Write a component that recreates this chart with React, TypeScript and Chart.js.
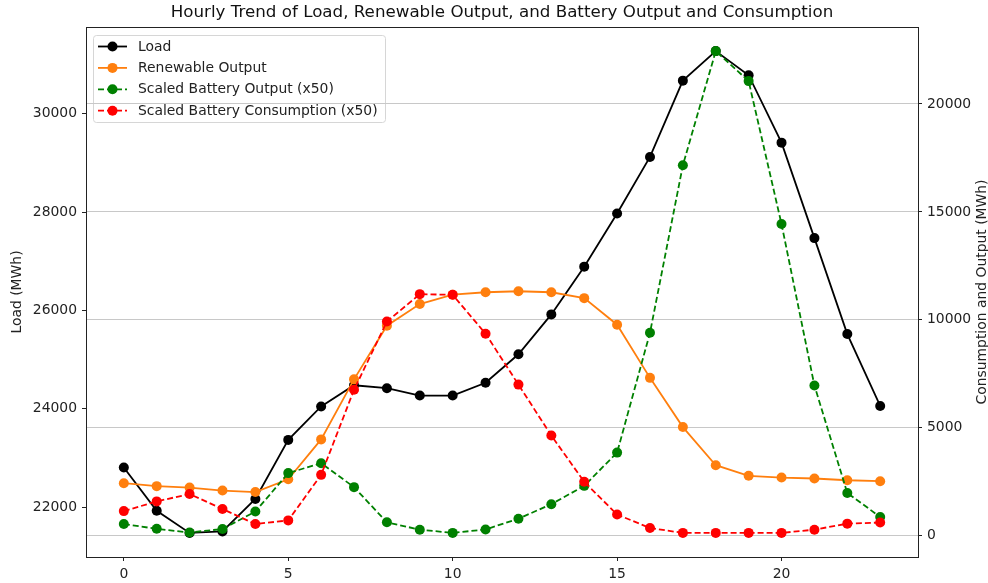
import React, { useEffect, useRef } from "react";
import { Chart, registerables } from "chart.js";

Chart.register(...registerables);

const FONT = "'DejaVu Sans', sans-serif";
const TEXT_SIZE = 13.9;

// Hour of day
const hours = [0, 1, 2, 3, 4, 5, 6, 7, 8, 9, 10, 11, 12, 13, 14, 15, 16, 17, 18, 19, 20, 21, 22, 23];

// Load (MWh), left axis
const load = [
  22810, 21930, 21480, 21510, 22170, 23370, 24050, 24480, 24420, 24270, 24270, 24530,
  25110, 25920, 26890, 27970, 29120, 30670, 31270, 30780, 29410, 27470, 25520, 24060,
];

// Renewable output (MWh), left axis
const renewable = [
  22490, 22430, 22400, 22340, 22310, 22570, 23380, 24600, 25690, 26130, 26320, 26370,
  26390, 26370, 26250, 25710, 24630, 23630, 22855, 22640, 22605, 22585, 22550, 22530,
];

// Battery output, already scaled x50 (MWh), right axis
const batteryOutputScaled = [
  540, 320, 150, 310, 1120, 2900, 3360, 2250, 620, 280, 130, 290,
  790, 1460, 2310, 3850, 9400, 17160, 22450, 21060, 14440, 6960, 1980, 870,
];

// Battery consumption, already scaled x50 (MWh), right axis
const batteryConsumptionScaled = [
  1140, 1590, 1930, 1240, 540, 710, 2820, 6760, 9920, 11190, 11160, 9360,
  7000, 4640, 2500, 980, 360, 130, 130, 130, 130, 280, 560, 610,
];

const xTicks = [0, 5, 10, 15, 20];
const loadTicks = [22000, 24000, 26000, 28000, 30000];
const rightTicks = [0, 5000, 10000, 15000, 20000];

const TITLE = "Hourly Trend of Load, Renewable Output, and Battery Output and Consumption";
const LEFT_TITLE = "Load (MWh)";
const RIGHT_TITLE = "Consumption and Output (MWh)";

type SeriesStyle = { label: string; color: string; dash: number[] };

const seriesStyles: SeriesStyle[] = [
  { label: "Load", color: "#000000", dash: [] },
  { label: "Renewable Output", color: "#ff7f0e", dash: [] },
  { label: "Scaled Battery Output (x50)", color: "#008000", dash: [6, 3] },
  { label: "Scaled Battery Consumption (x50)", color: "#ff0000", dash: [6, 3] },
];

const toPoints = (ys: number[]) => hours.map((h, i) => ({ x: h, y: ys[i] }));

// Figure title and the right-hand axis title (read bottom to top)
const textPlugin = {
  id: "figText",
  afterDraw(chart: any) {
    const { ctx, chartArea } = chart;
    ctx.save();
    ctx.font = `16.7px ${FONT}`;
    ctx.fillStyle = "#111";
    ctx.textAlign = "center";
    ctx.textBaseline = "middle";
    ctx.fillText(TITLE, (chartArea.left + chartArea.right) / 2, 13);

    ctx.font = `${TEXT_SIZE}px ${FONT}`;
    ctx.fillStyle = "#222";
    ctx.translate(chart.width - 6, (chartArea.top + chartArea.bottom) / 2);
    ctx.rotate(-Math.PI / 2);
    ctx.fillText(RIGHT_TITLE, 0, 0);
    ctx.restore();
  },
};

// Legend box; drawn before the scales so the right-axis grid passes over it
const legendPlugin = {
  id: "boxLegend",
  beforeDraw(chart: any) {
    const { ctx, chartArea } = chart;
    const x0 = chartArea.left + 7;
    const y0 = chartArea.top + 8;
    const w = 292;
    const h = 87;
    ctx.save();
    ctx.beginPath();
    ctx.roundRect(x0 + 0.5, y0 + 0.5, w, h, 3);
    ctx.fillStyle = "rgba(255,255,255,0.8)";
    ctx.fill();
    ctx.strokeStyle = "#d6d6d6";
    ctx.lineWidth = 1;
    ctx.stroke();
    ctx.font = `${TEXT_SIZE}px ${FONT}`;
    ctx.textBaseline = "middle";
    ctx.textAlign = "left";
    seriesStyles.forEach((s, i) => {
      const cy = y0 + 11.5 + i * 21.4;
      ctx.beginPath();
      ctx.setLineDash(s.dash);
      ctx.strokeStyle = s.color;
      ctx.lineWidth = 1.8;
      ctx.moveTo(x0 + 5, cy);
      ctx.lineTo(x0 + 34, cy);
      ctx.stroke();
      ctx.setLineDash([]);
      ctx.beginPath();
      ctx.arc(x0 + 19.5, cy, 5, 0, Math.PI * 2);
      ctx.fillStyle = s.color;
      ctx.fill();
      ctx.fillStyle = "#222";
      ctx.fillText(s.label, x0 + 45, cy + 0.5);
    });
    ctx.restore();
  },
};

// Box around the plot area
const framePlugin = {
  id: "frame",
  afterDatasetsDraw(chart: any) {
    const { ctx, chartArea } = chart;
    ctx.save();
    ctx.strokeStyle = "#222";
    ctx.lineWidth = 1;
    ctx.strokeRect(
      Math.round(chartArea.left) + 0.5,
      Math.round(chartArea.top) + 0.5,
      Math.round(chartArea.right - chartArea.left),
      Math.round(chartArea.bottom - chartArea.top)
    );
    ctx.restore();
  },
};

const tickFont = { size: TEXT_SIZE, family: FONT };

export default function App() {
  const canvasRef = useRef<HTMLCanvasElement | null>(null);

  useEffect(() => {
    const canvas = canvasRef.current;
    if (!canvas) return;
    Chart.defaults.font.family = FONT;

    const values = [load, renewable, batteryOutputScaled, batteryConsumptionScaled];
    const axes = ["yLoad", "yLoad", "yRight", "yRight"];
    const orders = [4, 3, 2, 1];

    const chart = new Chart(canvas, {
      type: "line",
      data: {
        datasets: seriesStyles.map((s, i) => ({
          label: s.label,
          data: toPoints(values[i]),
          yAxisID: axes[i],
          order: orders[i],
          borderColor: s.color,
          backgroundColor: s.color,
          borderWidth: 1.8,
          borderDash: s.dash,
          pointRadius: 5,
          pointHoverRadius: 5,
          pointBorderWidth: 0,
          pointBackgroundColor: s.color,
          fill: false,
          tension: 0,
        })),
      },
      options: {
        responsive: false,
        animation: false,
        devicePixelRatio: 1,
        layout: { padding: { top: 27, left: 0, right: 0, bottom: 0 } },
        plugins: {
          legend: { display: false },
          title: { display: false },
          tooltip: { enabled: false },
        },
        scales: {
          x: {
            type: "linear",
            min: -1.15,
            max: 24.15,
            afterBuildTicks: (scale: any) => {
              scale.ticks = xTicks.map((v) => ({ value: v }));
            },
            afterFit: (scale: any) => {
              scale.height = 26;
            },
            border: { display: false },
            grid: {
              drawOnChartArea: false,
              drawTicks: true,
              tickLength: 4,
              tickColor: "#222",
            },
            ticks: {
              color: "#222",
              font: tickFont,
              padding: 5,
              maxRotation: 0,
            },
          },
          yLoad: {
            type: "linear",
            position: "left",
            min: 20990,
            max: 31760,
            afterBuildTicks: (scale: any) => {
              scale.ticks = loadTicks.map((v) => ({ value: v }));
            },
            afterFit: (scale: any) => {
              scale.width = 86;
            },
            border: { display: false },
            grid: {
              drawOnChartArea: false,
              drawTicks: true,
              tickLength: 4,
              tickColor: "#222",
            },
            ticks: {
              color: "#222",
              font: tickFont,
              padding: 5,
              callback: (v: any) => String(v),
            },
            title: {
              display: true,
              text: LEFT_TITLE,
              color: "#222",
              font: tickFont,
              padding: { top: 9, bottom: 0 },
            },
          },
          yRight: {
            type: "linear",
            position: "right",
            min: -986,
            max: 23566,
            afterBuildTicks: (scale: any) => {
              scale.ticks = rightTicks.map((v) => ({ value: v }));
            },
            afterFit: (scale: any) => {
              scale.width = 70;
            },
            border: { display: false },
            grid: {
              drawOnChartArea: true,
              drawTicks: true,
              tickLength: 4,
              color: "#c8c8c8",
              lineWidth: 1,
              tickColor: "#222",
            },
            ticks: {
              color: "#222",
              font: tickFont,
              padding: 5,
              callback: (v: any) => String(v),
            },
          },
        },
      },
      plugins: [legendPlugin, framePlugin, textPlugin],
    } as any);

    return () => chart.destroy();
  }, []);

  return (
    <div style={{ position: "fixed", left: 0, top: 0, width: 988, height: 583, background: "#fff" }}>
      <canvas ref={canvasRef} width={988} height={583} style={{ display: "block" }} />
    </div>
  );
}
